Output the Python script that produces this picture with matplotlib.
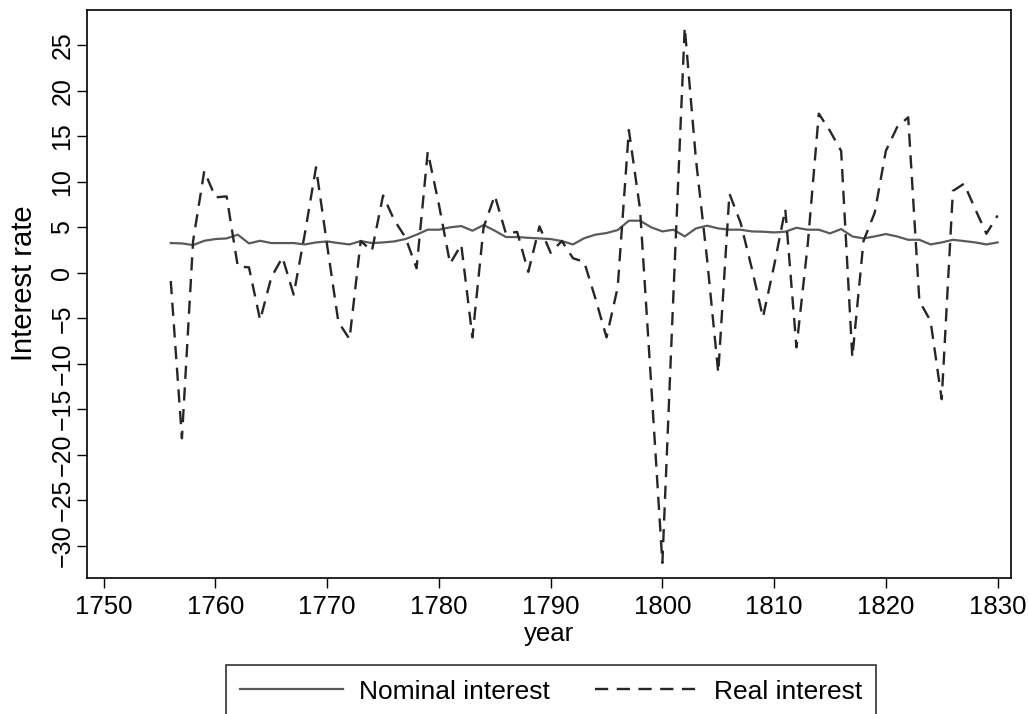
import numpy as np
import matplotlib
matplotlib.use("Agg")
import matplotlib.pyplot as plt

# interest rates 1756-1830

years = np.arange(1756, 1831)

nominal = [
    3.27, 3.23, 3.05, 3.52, 3.71, 3.78, 4.19, 3.23, 3.52, 3.27,   # 1756-1765
    3.27, 3.27, 3.12, 3.34, 3.45, 3.27, 3.12, 3.49, 3.27, 3.34,   # 1766-1775
    3.45, 3.71, 4.19, 4.74, 4.74, 5.00, 5.14, 4.63, 5.25, 4.63,   # 1776-1785
    3.93, 3.93, 3.85, 3.78, 3.71, 3.49, 3.12, 3.80, 4.19, 4.37,   # 1786-1795
    4.70, 5.73, 5.73, 5.00, 4.55, 4.74, 4.00, 4.88, 5.18, 4.88,   # 1796-1805
    4.74, 4.74, 4.55, 4.52, 4.44, 4.52, 4.95, 4.74, 4.74, 4.33,   # 1806-1815
    4.81, 4.00, 3.78, 4.00, 4.26, 4.00, 3.63, 3.63, 3.12, 3.34,   # 1816-1825
    3.63, 3.49, 3.34, 3.12, 3.34,                                 # 1826-1830
]

real = [
    -0.9, -18.2, 3.5, 11.2, 8.3, 8.4, 0.7, 0.6, -5.2, -0.5,       # 1756-1765
    1.7, -2.4, 4.3, 11.6, 3.0, -5.4, -7.3, 3.5, 2.4, 8.5,         # 1766-1775
    5.8, 3.9, 0.5, 13.3, 7.5, 1.0, 3.1, -7.1, 5.0, 8.5,           # 1776-1785
    4.3, 4.5, 0.1, 5.1, 2.2, 3.5, 1.6, 1.2, -2.8, -7.1,           # 1786-1795
    -1.6, 15.7, 7.0, -12.3, -31.9, -2.0, 27.0, 12.5, 1.5, -11.0,  # 1796-1805
    8.7, 5.5, 0.5, -4.9, 0.8, 7.0, -8.2, 3.0, 17.5, 15.6,         # 1806-1815
    13.4, -9.3, 3.5, 6.6, 13.4, 16.0, 17.1, -3.1, -5.3, -13.9,    # 1816-1825
    9.0, 9.8, 7.0, 4.3, 6.3,                                      # 1826-1830
]

xticks = np.arange(1750, 1831, 10)
yticks = np.arange(-30, 26, 5)

plt.rcParams["font.family"] = ["Liberation Sans", "DejaVu Sans"]

fig = plt.figure(figsize=(10.29, 7.14), dpi=100)
ax = fig.add_axes([0.0845, 0.19, 0.898, 0.796])

ax.plot(years, nominal, color="#5a5a5a", linewidth=1.6, label="Nominal interest")
ax.plot(years, real, color="#262626", linewidth=1.7, linestyle=(0, (5.6, 3.6)),
        label="Real interest")

ax.set_xlim(1748.5, 1831.2)
ax.set_ylim(-33.6, 28.9)
ax.set_xticks(xticks)
ax.set_yticks(yticks)
ax.tick_params(axis="both", direction="out", length=7, width=1, pad=2)
ax.tick_params(axis="x", labelsize=18.5, pad=5)
ax.tick_params(axis="y", labelsize=18)
plt.setp(ax.get_yticklabels(), rotation=90, va="center")
for s in ax.spines.values():
    s.set_linewidth(1.2)

ax.set_xlabel("year", fontsize=18.5, labelpad=2)
ax.set_ylabel("Interest rate", fontsize=21)
ax.yaxis.set_label_coords(-0.053, 0.52)

leg = fig.legend(loc="upper center", bbox_to_anchor=(0.5355, 0.0685), ncol=2,
                 fontsize=19, frameon=True, fancybox=False, handlelength=3.9,
                 handletextpad=0.6, columnspacing=1.7, borderpad=0.55,
                 borderaxespad=0)
leg.get_frame().set_edgecolor("black")
leg.get_frame().set_linewidth(1.2)

fig.savefig("out.png", dpi=100)
